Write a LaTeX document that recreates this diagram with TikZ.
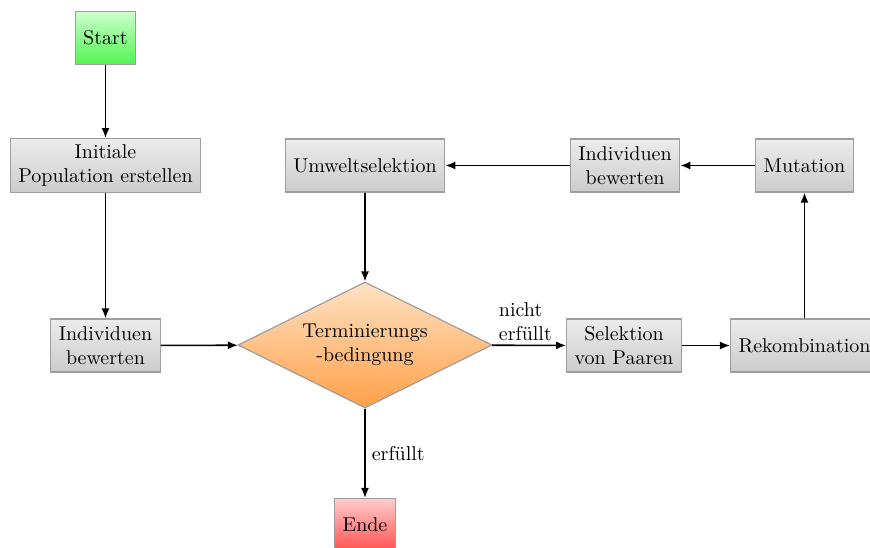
\documentclass[tikz,border=0pt]{standalone}
\usetikzlibrary{shapes.geometric,arrows.meta}

\definecolor{boxtop}{RGB}{236,236,236}
\definecolor{boxbot}{RGB}{204,204,204}
\definecolor{boxline}{RGB}{158,158,158}
\definecolor{greentop}{RGB}{205,255,205}
\definecolor{greenbot}{RGB}{80,245,80}
\definecolor{redtop}{RGB}{255,205,205}
\definecolor{redbot}{RGB}{255,80,80}
\definecolor{orangetop}{RGB}{255,226,196}
\definecolor{orangebot}{RGB}{255,160,72}

\tikzset{
  procbox/.style={rectangle, draw=boxline, line width=0.6pt,
    top color=boxtop, bottom color=boxbot,
    inner xsep=4pt, inner ysep=3pt, minimum height=26.5pt, align=center},
  startbox/.style={procbox, top color=greentop, bottom color=greenbot},
  endbox/.style={procbox, top color=redtop, bottom color=redbot},
  decision/.style={diamond, aspect=2, draw=boxline, line width=0.6pt,
    top color=orangetop, bottom color=orangebot,
    minimum width=127pt, minimum height=63pt, inner sep=1pt, align=center},
  flow/.style={-{Latex[length=5pt,width=4pt]}, line width=0.8pt},
}

\begin{document}
\begin{tikzpicture}[x=0.5pt, y=-0.5pt]
  \useasboundingbox (0,0) rectangle (870,547);

  \node[startbox] (start) at (105.5,38) {Start};
  \node[procbox] (init) at (105.5,165.5) {Initiale\\Population erstellen};
  \node[procbox] (evalA) at (105.5,345.5) {Individuen\\bewerten};
  \node[decision] (term) at (365,345) {Terminierungs\\-bedingung};
  \node[procbox] (umwelt) at (365,165.5) {Umweltselektion};
  \node[procbox] (evalB) at (625,165.5) {Individuen\\bewerten};
  \node[procbox] (mut) at (804.5,165.5) {Mutation};
  \node[procbox] (sel) at (624,345.5) {Selektion\\von Paaren};
  \node[procbox] (rek) at (804.5,345.5) {Rekombination};
  \node[endbox] (ende) at (365,525) {Ende};

  \draw[flow] (start) -- (init);
  \draw[flow] (init) -- (evalA);
  \draw[flow] (evalA) -- (term);
  \draw[flow] (term) -- node[pos=0, anchor=south west, align=left, inner sep=2pt, xshift=1pt] {nicht\\erfüllt} (sel);
  \draw[flow] (sel) -- (rek);
  \draw[flow] (rek) -- (mut);
  \draw[flow] (mut) -- (evalB);
  \draw[flow] (evalB) -- (umwelt);
  \draw[flow] (umwelt) -- (term);
  \draw[flow] (term) -- node[midway, right, inner sep=3pt] {erfüllt} (ende);
\end{tikzpicture}
\end{document}
